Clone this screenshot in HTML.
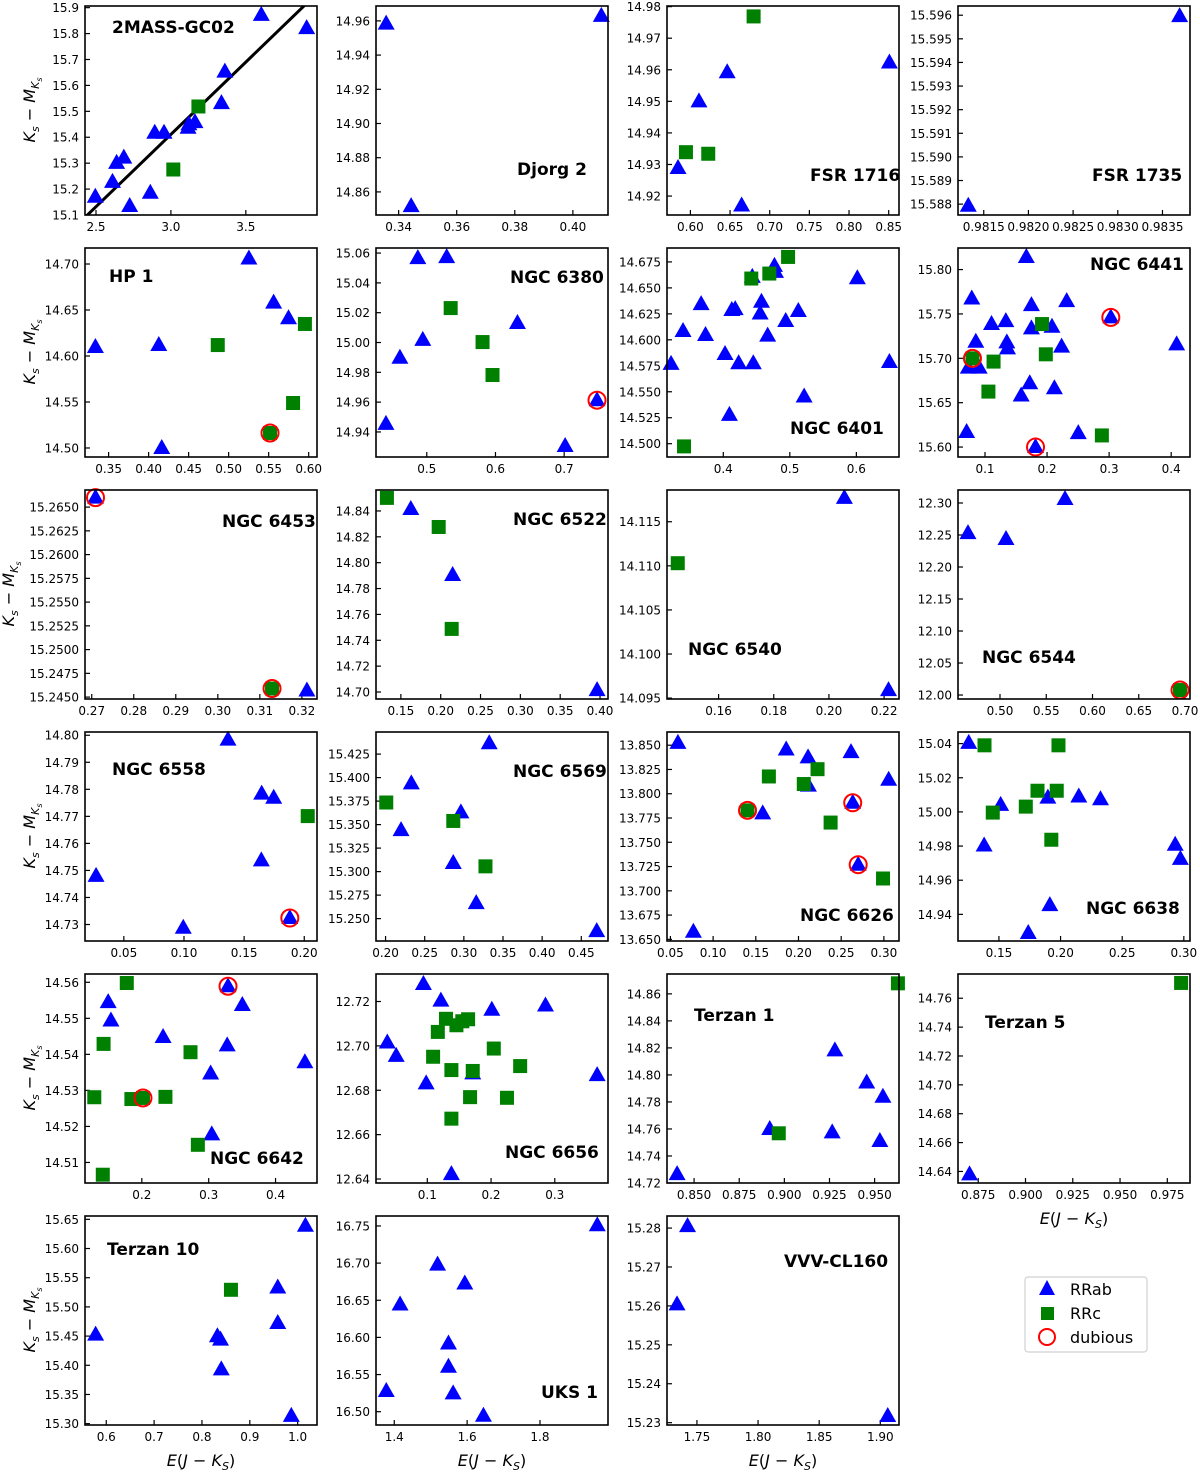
<!DOCTYPE html>
<html><head><meta charset="utf-8"><style>
html,body{margin:0;padding:0;background:#fff;}
svg{display:block;}
text{font-family:"DejaVu Sans","Liberation Sans",sans-serif;}
</style></head><body>
<svg id="chart" width="1200" height="1472" viewBox="0 0 1200 1472" xmlns="http://www.w3.org/2000/svg"></svg>
<script>
const clusterNames = ["2MASS-GC02","Djorg 2","FSR 1716","FSR 1735","HP 1","NGC 6380","NGC 6401","NGC 6441","NGC 6453","NGC 6522","NGC 6540","NGC 6544","NGC 6558","NGC 6569","NGC 6626","NGC 6638","NGC 6642","NGC 6656","Terzan 1","Terzan 5","Terzan 10","UKS 1","VVV-CL160"];
const xLimits = [[2.4266,3.975],[0.3322,0.4121],[0.5705,0.863],[0.981212,0.983808],[0.3205,0.6104],[0.4261,0.7638],[0.3154,0.6641],[0.0565,0.4303],[0.2684,0.3236],[0.1188,0.41],[0.1413,0.2254],[0.4546,0.7054],[0.0177,0.2106],[0.1878,0.4841],[0.046,0.3177],[0.1168,0.305],[0.115,0.462],[0.0195,0.3835],[0.835,0.9635],[0.8643,0.987],[0.5556,1.0404],[1.3499,1.9867],[1.7255,1.9153]];
const yLimits = [[15.1,15.9064],[14.8465,14.9687],[14.914,14.9802],[15.58754,15.59639],[14.4902,14.7174],[14.9232,15.0634],[14.4872,14.6884],[15.5888,15.8243],[15.2448,15.2668],[14.6946,14.8562],[14.0949,14.1186],[11.9938,12.3203],[14.7239,14.8012],[15.2262,15.4485],[13.6483,13.8636],[14.9244,15.0468],[14.5043,14.5623],[12.6382,12.7324],[14.72,14.8747],[14.632,14.7768],[15.2977,15.6557],[16.4821,16.7634],[15.2294,15.2831]];
const xTickLabels = [["2.5","3.0","3.5"],["0.34","0.36","0.38","0.40"],["0.60","0.65","0.70","0.75","0.80","0.85"],["0.9815","0.9820","0.9825","0.9830","0.9835"],["0.35","0.40","0.45","0.50","0.55","0.60"],["0.5","0.6","0.7"],["0.4","0.5","0.6"],["0.1","0.2","0.3","0.4"],["0.27","0.28","0.29","0.30","0.31","0.32"],["0.15","0.20","0.25","0.30","0.35","0.40"],["0.16","0.18","0.20","0.22"],["0.50","0.55","0.60","0.65","0.70"],["0.05","0.10","0.15","0.20"],["0.20","0.25","0.30","0.35","0.40","0.45"],["0.05","0.10","0.15","0.20","0.25","0.30"],["0.15","0.20","0.25","0.30"],["0.2","0.3","0.4"],["0.1","0.2","0.3"],["0.850","0.875","0.900","0.925","0.950"],["0.875","0.900","0.925","0.950","0.975"],["0.6","0.7","0.8","0.9","1.0"],["1.4","1.6","1.8"],["1.75","1.80","1.85","1.90"]];
const yTickLabels = [["15.1","15.2","15.3","15.4","15.5","15.6","15.7","15.8","15.9"],["14.86","14.88","14.90","14.92","14.94","14.96"],["14.92","14.93","14.94","14.95","14.96","14.97","14.98"],["15.588","15.589","15.590","15.591","15.592","15.593","15.594","15.595","15.596"],["14.50","14.55","14.60","14.65","14.70"],["14.94","14.96","14.98","15.00","15.02","15.04","15.06"],["14.500","14.525","14.550","14.575","14.600","14.625","14.650","14.675"],["15.60","15.65","15.70","15.75","15.80"],["15.2450","15.2475","15.2500","15.2525","15.2550","15.2575","15.2600","15.2625","15.2650"],["14.70","14.72","14.74","14.76","14.78","14.80","14.82","14.84"],["14.095","14.100","14.105","14.110","14.115"],["12.00","12.05","12.10","12.15","12.20","12.25","12.30"],["14.73","14.74","14.75","14.76","14.77","14.78","14.79","14.80"],["15.250","15.275","15.300","15.325","15.350","15.375","15.400","15.425"],["13.650","13.675","13.700","13.725","13.750","13.775","13.800","13.825","13.850"],["14.94","14.96","14.98","15.00","15.02","15.04"],["14.51","14.52","14.53","14.54","14.55","14.56"],["12.64","12.66","12.68","12.70","12.72"],["14.72","14.74","14.76","14.78","14.80","14.82","14.84","14.86"],["14.64","14.66","14.68","14.70","14.72","14.74","14.76"],["15.30","15.35","15.40","15.45","15.50","15.55","15.60","15.65"],["16.50","16.55","16.60","16.65","16.70","16.75"],["15.23","15.24","15.25","15.26","15.27","15.28"]];
// colour excess E(J-Ks) values per cluster
const starX = [
[2.4954,2.6101,2.6376,2.6858,2.7248,2.8624,2.8922,2.9541,3.1147,3.1606,3.3372,3.3601,3.6032,3.906,3.12,3.1835,3.016],
[0.3357,0.3443,0.4098],
[0.5844,0.6108,0.6464,0.6646,0.8509,0.5944,0.6225,0.6797],
[0.981327,0.983692],
[0.3335,0.4127,0.4164,0.5253,0.5562,0.5748,0.4864,0.5805,0.5953,0.5517],
[0.4406,0.4609,0.4942,0.487,0.529,0.632,0.7014,0.7478,0.5348,0.5812,0.5957],
[0.3215,0.3395,0.3667,0.3733,0.4026,0.4128,0.4179,0.4231,0.4451,0.4436,0.4574,0.4554,0.4667,0.4769,0.4785,0.4938,0.5128,0.5215,0.4092,0.6015,0.6497,0.4421,0.4692,0.4974,0.341],
[0.0787,0.0704,0.0731,0.0852,0.0906,0.1105,0.1336,0.1352,0.1363,0.1666,0.1748,0.1748,0.1721,0.1583,0.2079,0.2118,0.2234,0.2316,0.2503,0.4088,0.1814,0.3027,0.1138,0.1055,0.1919,0.198,0.2883,0.0798],
[0.2709,0.3129,0.3212],
[0.1325,0.1975,0.2138,0.1625,0.215,0.3963],
[0.1452,0.2056,0.2216],
[0.4654,0.5065,0.5703,0.6946],
[0.1366,0.0269,0.0994,0.1646,0.1746,0.1643,0.188,0.2029],
[0.3324,0.2329,0.2962,0.2198,0.2865,0.3158,0.4697,0.2009,0.2865,0.3276],
[0.0588,0.0769,0.1856,0.2112,0.2615,0.3056,0.1581,0.2116,0.2635,0.2699,0.1653,0.2062,0.2223,0.2376,0.299,0.1403],
[0.1255,0.138,0.1514,0.1897,0.2148,0.2324,0.1913,0.1738,0.293,0.2972,0.1383,0.1983,0.145,0.1718,0.1813,0.1969,0.1925],
[0.1497,0.1538,0.2318,0.3277,0.3029,0.3503,0.4439,0.3046,0.3289,0.1775,0.1428,0.2728,0.1289,0.1844,0.2353,0.2838,0.1416,0.2017],
[0.0939,0.1213,0.0372,0.0512,0.0982,0.2012,0.2854,0.3665,0.1378,0.1713,0.1293,0.1457,0.1165,0.1549,0.164,0.1091,0.1378,0.1713,0.2043,0.2457,0.1671,0.225,0.1378],
[0.8406,0.8919,0.928,0.9456,0.9546,0.9265,0.9529,0.8969,0.9629],
[0.8704,0.9823],
[1.0162,0.5778,0.8323,0.8388,0.9584,0.9584,0.8404,0.9867,0.8606],
[1.9573,1.5189,1.5936,1.416,1.5488,1.5488,1.5616,1.3781,1.6448],
[1.7423,1.7337,1.9061]];
// distance modulus Ks - M_Ks values per cluster
const starY = [
[15.1704,15.228,15.301,15.3213,15.1346,15.1858,15.4175,15.4175,15.4368,15.4585,15.5315,15.6531,15.872,15.8208,15.45,15.5187,15.2755],
[14.9584,14.8517,14.9629],
[14.9289,14.95,14.9592,14.917,14.9623,14.9339,14.9334,14.9769],
[15.58793,15.59596],
[14.6098,14.612,14.50,14.706,14.658,14.641,14.6119,14.5489,14.6348,14.5163],
[14.9454,14.9898,15.0018,15.0566,15.0573,15.0131,14.9306,14.9613,15.0231,15.0003,14.9782],
[14.5768,14.6085,14.6344,14.6047,14.5864,14.6287,14.6296,14.5774,14.5774,14.6606,14.6366,14.6254,14.604,14.6712,14.6654,14.6181,14.6277,14.5454,14.5278,14.6593,14.5787,14.659,14.6638,14.6798,14.4974],
[15.7674,15.6169,15.6895,15.7187,15.6895,15.7386,15.7419,15.718,15.7112,15.8142,15.7599,15.7337,15.6719,15.6581,15.7356,15.6663,15.7131,15.7644,15.6157,15.7157,15.60,15.7461,15.6963,15.6625,15.7386,15.7045,15.6131,15.70],
[15.266,15.2459,15.2457],
[14.8501,14.8276,14.7488,14.8415,14.7905,14.7015],
[14.1103,14.1177,14.0959],
[12.253,12.2437,12.3063,12.0078],
[14.7984,14.748,14.7288,14.7784,14.7769,14.7537,14.7324,14.7701],
[15.4365,15.3938,15.363,15.3441,15.3091,15.2665,15.2367,15.3735,15.3539,15.3056],
[13.8524,13.6578,13.8456,13.8375,13.8429,13.8144,13.7798,13.8083,13.7907,13.7269,13.8178,13.81,13.8253,13.7703,13.7127,13.7829],
[15.0404,14.9803,15.0041,15.0084,15.009,15.0074,14.9454,14.9291,14.9808,14.9725,15.039,15.039,14.9996,15.0031,15.0124,15.0124,14.9837],
[14.5545,14.5494,14.5448,14.5425,14.5347,14.5537,14.5378,14.5178,14.5589,14.5598,14.5429,14.5406,14.5281,14.5276,14.5282,14.5149,14.5066,14.5279],
[12.7279,12.7204,12.7015,12.6955,12.6831,12.7163,12.7182,12.6868,12.6422,12.6876,12.7122,12.7093,12.7063,12.7111,12.712,12.6951,12.6891,12.6887,12.6988,12.6909,12.6769,12.6766,12.6672],
[14.7266,14.76,14.8182,14.7944,14.7838,14.7575,14.7511,14.7568,14.8678],
[14.638,14.7706],
[15.6389,15.4525,15.4497,15.444,15.5332,15.4724,15.3929,15.3134,15.5293],
[16.7509,16.698,16.6725,16.6443,16.5918,16.5605,16.5246,16.5278,16.4946],
[15.2805,15.2604,15.2317]];
// a = RRab, c = RRc, A = dubious RRab, C = dubious RRc
const starType = ["aaaaaaaaaaaaaaacc","aaa","aaaaaccc","aa","aaaaaacccC","aaaaaaaAccc","aaaaaaaaaaaaaaaaaaaaaccccC","aaaaaaaaaaaaaaaaaaaaAAcccccC","ACa","cccaaa","caa","aaaC","aaaaaaAc","aaaaaaaccc","aaaaaaaaAAcccccC","aaaaaaaaaaccccccc","aaaaaaaaAccccccccC","aaaaaaaaaaccccccccccccc","aaaaaaacc","ac","aaaaaaaac","aaaaaaaaa","aaa"];
const fitIntercept = 13.737;
const fitSlope = 0.558;

const svg = document.getElementById('chart');
const NS = 'http://www.w3.org/2000/svg';
const colLeft = [85,376,667,958], rowTop = [6,248,490,732,974,1216], PW = 232, PH = 209;
const titlePos = [[112,27],[517,169],[810,175],[1092,175],[109,276],[510,277],[790,428],[1090,264],[222,521],[513,519],[688,649],[982,657],[112,769],[513,771],[800,915],[1086,908],[210,1158],[505,1152],[694,1015],[985,1022],[107,1249],[541,1392],[784,1261]];
function mk(tag, attrs, parent){const e=document.createElementNS(NS,tag);for(const k in attrs)e.setAttribute(k,attrs[k]);(parent||svg).appendChild(e);return e;}

clusterNames.forEach((name, i) => {
  const L = colLeft[i%4], T = rowTop[Math.floor(i/4)];
  const [x0,x1] = xLimits[i], [y0,y1] = yLimits[i];
  const sx = v => L + (v-x0)/(x1-x0)*PW;
  const sy = v => T + PH - (v-y0)/(y1-y0)*PH;
  const g = mk('g', {});
  
  
  const clipId = 'clip'+i;
  const cp = mk('clipPath', {id:clipId}, g);
  mk('rect', {x:L,y:T,width:PW,height:PH}, cp);
  xTickLabels[i].forEach(lbl => {
    const v = parseFloat(lbl), px = sx(v);
    if (px < L-0.5 || px > L+PW+0.5) return;
    mk('line', {x1:px,y1:T+PH,x2:px,y2:T+PH-5,stroke:'#000','stroke-width':1.2}, g);
    const t = mk('text', {x:px,y:T+PH+16,'text-anchor':'middle','font-size':12,fill:'#000'}, g);
    t.textContent = lbl;
    
    
  });
  yTickLabels[i].forEach(lbl => {
    const v = parseFloat(lbl), py = sy(v);
    if (py < T-0.5 || py > T+PH+0.5) return;
    mk('line', {x1:L,y1:py,x2:L+5,y2:py,stroke:'#000','stroke-width':1.2}, g);
    const t = mk('text', {x:L-6,y:py+4.5,'text-anchor':'end','font-size':12,fill:'#000'}, g);
    t.textContent = lbl;
    
    
  });
  if (i === 0) {
    const lg0 = mk('g', {'clip-path':'url(#'+clipId+')'}, g);
    const ln = mk('line', {x1:sx(x0),y1:sy(fitIntercept+fitSlope*x0),x2:sx(x1),y2:sy(fitIntercept+fitSlope*x1),stroke:'#000','stroke-width':3}, lg0);
    
    
  }
  const marks = mk('g', {}, g);
  const types = starType[i];
  ['a','A','c','C'].forEach(kind => {
    starX[i].forEach((xv, j) => {
      if (types[j] !== kind) return;
      const px = sx(xv), py = sy(starY[i][j]);
      if (kind === 'a' || kind === 'A') {
        const p = mk('polygon', {points:`${px},${py-9} ${px-8.5},${py+6} ${px+8.5},${py+6}`, fill:'#0000ff'}, marks);
        
        
      } else {
        const r = mk('rect', {x:px-7,y:py-7,width:14,height:14,fill:'#008000'}, marks);
        
        
      }
    });
  });
  starX[i].forEach((xv, j) => {
    const k = types[j];
    if (k !== 'A' && k !== 'C') return;
    const c = mk('circle', {cx:sx(xv),cy:sy(starY[i][j]),r:8.5,fill:'none',stroke:'#ff0000','stroke-width':2}, marks);
    
    
  });
  mk('rect', {x:L,y:T,width:PW,height:PH,fill:'none',stroke:'#000','stroke-width':1.6}, g);
  const tp = titlePos[i];
  const tt = mk('text', {x:tp[0],y:tp[1]+6,'text-anchor':'start','font-size':17,'font-weight':'bold',fill:'#000'}, g);
  tt.textContent = name;
  
  
});

function yTitle(cx, cy){
  const t = mk('text', {transform:`translate(${cx},${cy}) rotate(-90)`,'text-anchor':'middle','font-size':16,fill:'#000'});
  t.innerHTML = '<tspan font-style="italic">K</tspan><tspan font-size="11" dy="4" font-style="italic">s</tspan><tspan dy="-4"> − </tspan><tspan font-style="italic">M</tspan><tspan font-size="11" dy="4" font-style="italic">K</tspan><tspan font-size="8" dy="3" font-style="italic">s</tspan>';
  
  
}
[[35,110],[35,352],[14,594],[35,836],[35,1078],[35,1320]].forEach(p => yTitle(p[0], p[1]));
function xTitle(cx, cy){
  const t = mk('text', {x:cx,y:cy,'text-anchor':'middle','font-size':16,fill:'#000'});
  t.innerHTML = '<tspan font-style="italic">E</tspan>(<tspan font-style="italic">J</tspan> − <tspan font-style="italic">K</tspan><tspan font-size="11" dy="4" font-style="italic">S</tspan><tspan dy="-4">)</tspan>';
  
  
}
xTitle(201,1466); xTitle(492,1466); xTitle(783,1466); xTitle(1074,1224);

const lg = mk('g', {});


mk('rect', {x:1025,y:1277,width:122,height:75,rx:3,fill:'#fff',stroke:'#d0d0d0','stroke-width':1.2}, lg);
const e1 = mk('polygon', {points:'1047,1280 1039,1295 1055,1295', fill:'#0000ff'}, lg);


mk('rect', {x:1041,y:1307,width:13,height:13,fill:'#008000'}, lg);
mk('circle', {cx:1047,cy:1337,r:8,fill:'none',stroke:'#ff0000','stroke-width':2}, lg);
[['RRab',1295],['RRc',1319],['dubious',1343]].forEach(e => {
  const t = mk('text', {x:1070,y:e[1],'font-size':16,fill:'#000'}, lg);
  t.textContent = e[0];
  
  
});
</script>
</body></html>
